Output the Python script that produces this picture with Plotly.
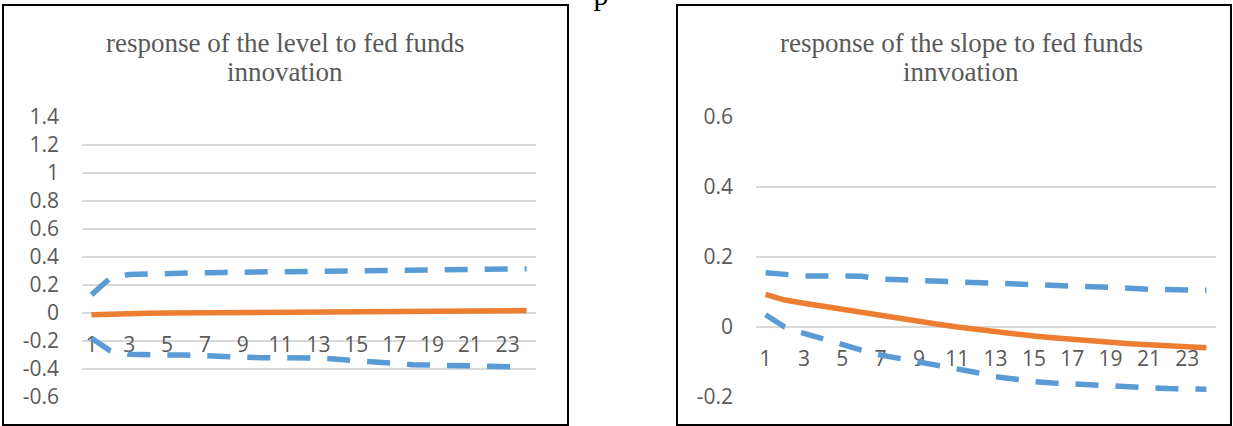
import plotly.graph_objects as go

# ---- data -------------------------------------------------------------
periods = list(range(1, 25))

level_resp = [-0.012, -0.006, -0.004, -0.002, 0.000, 0.001, 0.002, 0.003,
              0.004, 0.005, 0.006, 0.007, 0.008, 0.009, 0.010, 0.011,
              0.012, 0.013, 0.014, 0.015, 0.015, 0.016, 0.016, 0.017]
level_upper = [0.13, 0.25, 0.275, 0.28, 0.283, 0.285, 0.288, 0.29,
               0.292, 0.294, 0.296, 0.298, 0.30, 0.301, 0.302, 0.303,
               0.305, 0.307, 0.309, 0.311, 0.313, 0.314, 0.315, 0.316]
level_lower = [-0.18, -0.27, -0.295, -0.30, -0.30, -0.30, -0.305, -0.31,
               -0.32, -0.32, -0.32, -0.32, -0.322, -0.33, -0.34, -0.355,
               -0.365, -0.37, -0.372, -0.373, -0.375, -0.38, -0.383, -0.386]

slope_resp = [0.093, 0.077, 0.068, 0.059, 0.050, 0.041, 0.032, 0.024,
              0.016, 0.008, 0.000, -0.007, -0.014, -0.020, -0.026, -0.031,
              -0.036, -0.040, -0.044, -0.048, -0.051, -0.054, -0.056, -0.059]
slope_upper = [0.155, 0.150, 0.146, 0.146, 0.147, 0.145, 0.137, 0.135,
               0.133, 0.131, 0.129, 0.127, 0.125, 0.123, 0.122, 0.122,
               0.120, 0.117, 0.113, 0.111, 0.108, 0.108, 0.107, 0.105]
slope_lower = [0.035, 0.000, -0.018, -0.035, -0.051, -0.066, -0.080, -0.090,
               -0.099, -0.109, -0.118, -0.130, -0.142, -0.150, -0.156, -0.160,
               -0.163, -0.166, -0.170, -0.172, -0.175, -0.176, -0.177, -0.178]

x_tick_vals = list(range(1, 24, 2))
x_tick_text = [str(v) for v in x_tick_vals]

level_y_vals = [-0.6, -0.4, -0.2, 0, 0.2, 0.4, 0.6, 0.8, 1.0, 1.2, 1.4]
level_y_text = ["-0.6", "-0.4", "-0.2", "0", "0.2", "0.4", "0.6", "0.8", "1", "1.2", "1.4"]
slope_y_vals = [-0.2, 0, 0.2, 0.4, 0.6]
slope_y_text = ["-0.2", "0", "0.2", "0.4", "0.6"]

title_left = ["response of the level to fed funds", "innovation"]
title_right = ["response of the slope to fed funds", "innvoation"]

# tail of the running page text above the charts
page_text = [",", "p"]

# ---- styling ----------------------------------------------------------
W, H = 1233, 426
ORANGE = "#ED7D31"
BLUE = "#5B9BD5"
GRID = "#D9D9D9"
TEXT = "#595959"
DASH = "23px,17px"
LABEL_FONT = dict(family="Open Sans", size=21, color=TEXT)


def px_x(a, b):
    return [a / W, b / W]


def px_y(top, bottom):
    return [(H - bottom) / H, (H - top) / H]


fig = go.Figure()

panels = [
    dict(xa="x", ya="y", resp=level_resp, up=level_upper, lo=level_lower),
    dict(xa="x2", ya="y2", resp=slope_resp, up=slope_upper, lo=slope_lower),
]
for p in panels:
    for vals, color, dash in [(p["up"], BLUE, DASH), (p["lo"], BLUE, DASH),
                              (p["resp"], ORANGE, "solid")]:
        fig.add_trace(go.Scatter(
            x=periods, y=vals, mode="lines", xaxis=p["xa"], yaxis=p["ya"],
            line=dict(color=color, width=5.5, dash=dash), showlegend=False,
            hoverinfo="skip"))

# page text strip along the top edge, clipped by its own thin subplot
fig.add_trace(go.Scatter(
    x=[533, 601], y=[2.5, 12.5], mode="text", text=page_text,
    textposition="top center", xaxis="x3", yaxis="y3", cliponaxis=True,
    textfont=dict(family="Liberation Serif", size=30, color="black"),
    showlegend=False, hoverinfo="skip"))

y_dom = px_y(117, 397)
left_range = [level_y_vals[0], level_y_vals[-1]]
right_range = [slope_y_vals[0], slope_y_vals[-1]]


def zero_position(rng):
    # paper fraction where value 0 sits on the vertical axis
    frac = (0 - rng[0]) / (rng[1] - rng[0])
    return y_dom[0] + frac * (y_dom[1] - y_dom[0])


xaxis_common = dict(
    range=[0.5, 24.5], tickmode="array", tickvals=x_tick_vals,
    ticktext=x_tick_text, showgrid=False, zeroline=False, showline=False,
    ticks="", tickfont=LABEL_FONT, anchor="free", layer="below traces",
    ticklabelstandoff=17, fixedrange=True, automargin=False)
yaxis_common = dict(
    tickmode="array", showgrid=True, gridcolor=GRID, gridwidth=1.5,
    zeroline=False, showline=False, ticks="", tickfont=LABEL_FONT,
    ticklabelstandoff=22, fixedrange=True, automargin=False)

fig.update_layout(
    width=W, height=H, margin=dict(l=0, r=0, t=0, b=0, autoexpand=False),
    paper_bgcolor="white", plot_bgcolor="white",
    xaxis=dict(domain=px_x(82, 536), position=zero_position(left_range),
               **xaxis_common),
    yaxis=dict(domain=y_dom, range=left_range, tickvals=level_y_vals,
               ticktext=level_y_text, anchor="x", **yaxis_common),
    xaxis2=dict(domain=px_x(756, 1216), position=zero_position(right_range),
                **xaxis_common),
    yaxis2=dict(domain=y_dom, range=right_range, tickvals=slope_y_vals,
                ticktext=slope_y_text, anchor="x2", **yaxis_common),
    xaxis3=dict(domain=[0, 1], range=[0, W], visible=False, fixedrange=True),
    yaxis3=dict(domain=px_y(0, 14), range=[14, 0], visible=False,
                fixedrange=True, anchor="x3"),
)

# chart frames
for x0, x1 in [(3, 568), (677, 1231)]:
    fig.add_shape(type="rect", xref="paper", yref="paper",
                  x0=x0 / W, x1=x1 / W, y0=(H - 425) / H, y1=(H - 5) / H,
                  line=dict(color="black", width=2), fillcolor="rgba(0,0,0,0)")

TITLE_FONT = dict(family="Liberation Serif", size=27, color=TEXT)
for cx, lines in [(285, title_left), (961, title_right)]:
    for cy, txt in zip([43, 72], lines):
        fig.add_annotation(xref="paper", yref="paper", x=cx / W, y=(H - cy) / H,
                           text=txt, showarrow=False, font=TITLE_FONT,
                           xanchor="center", yanchor="middle")

fig.write_html("out.html")
